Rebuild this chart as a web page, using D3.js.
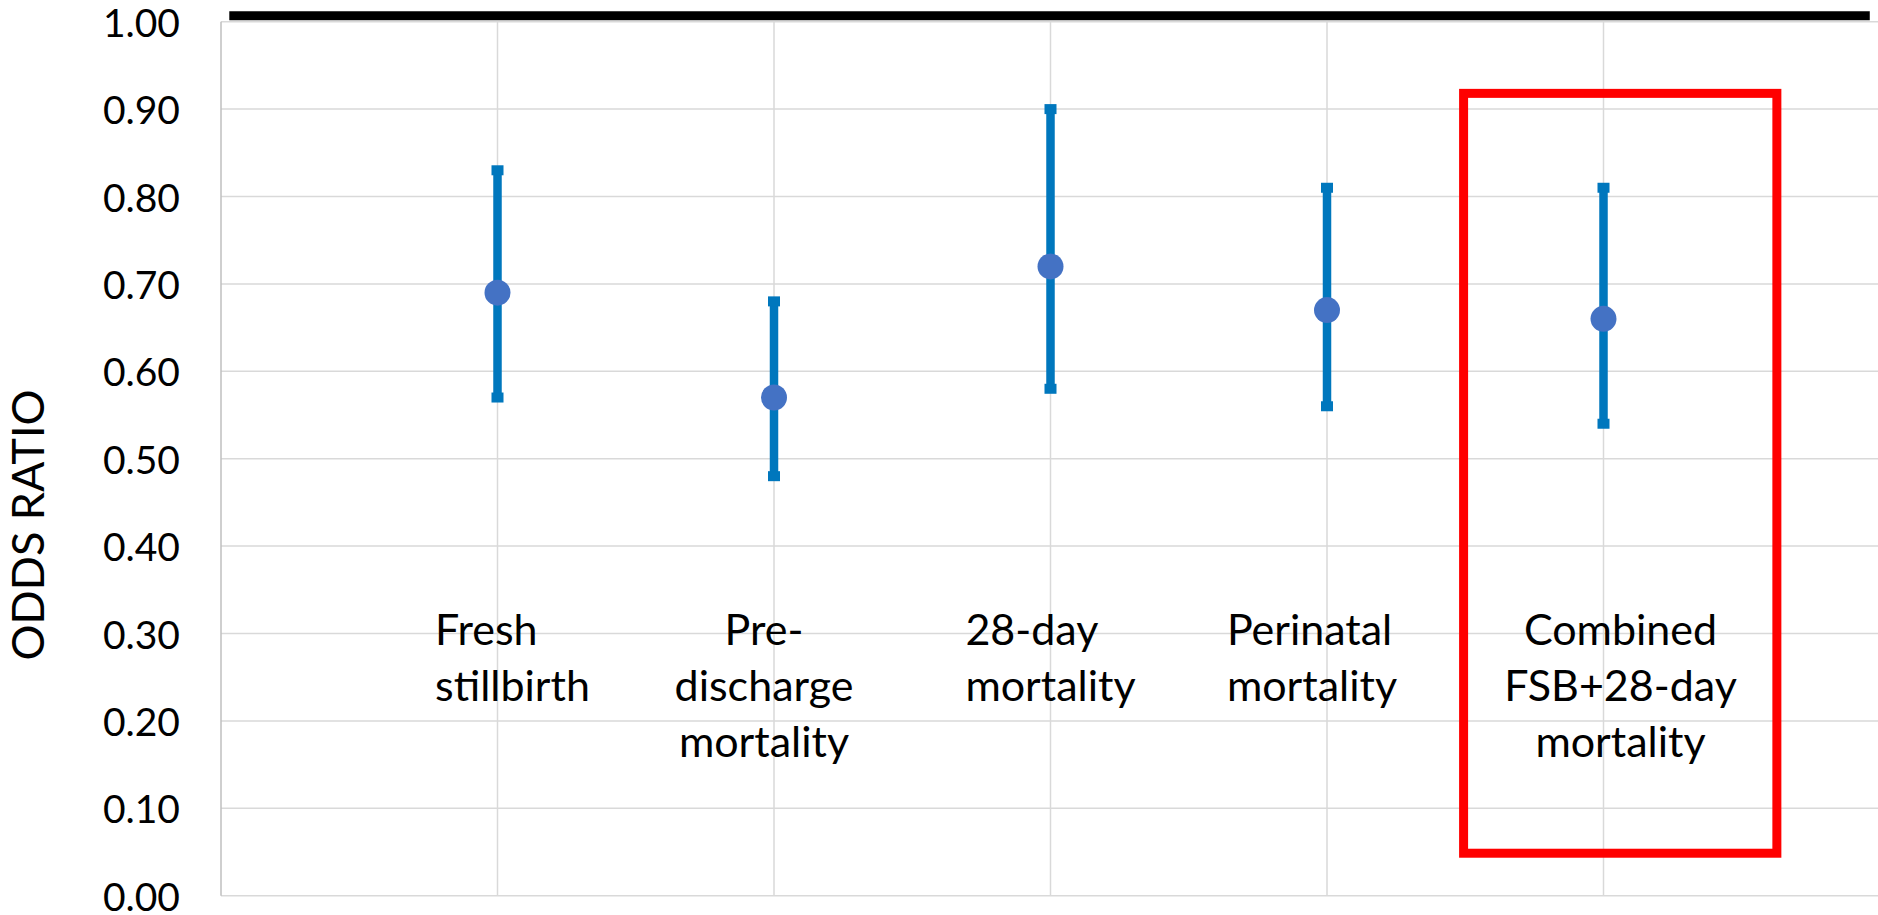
<!DOCTYPE html>
<meta charset="utf-8">
<style>
    body { margin: 0; background: #ffffff; }
    svg { display: block; background: #ffffff; }
    text { font-family: Lato, "Open Sans", sans-serif; fill: #000000; }
</style>

<script src="https://cdn.jsdelivr.net/npm/d3@7"></script>

<svg id="chart" width="1878" height="915"></svg>

<script>

// Data

var categories = [
    ['Fresh', 'stillbirth'],
    ['Pre-', 'discharge', 'mortality'],
    ['28-day', 'mortality'],
    ['Perinatal', 'mortality'],
    ['Combined', 'FSB+28-day', 'mortality']
];
var oddsRatio = [0.69, 0.57, 0.72, 0.67, 0.66];
var ciLower   = [0.57, 0.48, 0.58, 0.56, 0.54];
var ciUpper   = [0.83, 0.68, 0.90, 0.81, 0.81];
var yTicks    = [0, 0.1, 0.2, 0.3, 0.4, 0.5, 0.6, 0.7, 0.8, 0.9, 1.0];

// Layout

var svg = d3.select('svg#chart');
var width = +svg.attr('width');
var height = +svg.attr('height');

var x = d3.scaleLinear().domain([0, 6]).range([221, 1880]);
var y = d3.scaleLinear().domain([0, 1]).range([895.7, 21.7]);

var barColor = '#0077bd';
var dotColor = '#4472c4';
var gridColor = '#d9d9d9';

// Gridlines

svg.append('g')
    .selectAll('line')
    .data(yTicks)
    .enter().append('line')
    .attr('x1', x(0)).attr('x2', width)
    .attr('y1', function (d) { return y(d); })
    .attr('y2', function (d) { return y(d); })
    .attr('stroke', gridColor)
    .attr('stroke-width', 1.5);

svg.append('g')
    .selectAll('line')
    .data(d3.range(1, categories.length + 1))
    .enter().append('line')
    .attr('x1', function (d) { return x(d); })
    .attr('x2', function (d) { return x(d); })
    .attr('y1', y(1)).attr('y2', y(0))
    .attr('stroke', gridColor)
    .attr('stroke-width', 1.5);

// Left axis line
svg.append('line')
    .attr('x1', x(0)).attr('x2', x(0))
    .attr('y1', y(1)).attr('y2', y(0))
    .attr('stroke', '#bfbfbf')
    .attr('stroke-width', 1.5);

// Tick labels
svg.append('g')
    .selectAll('text')
    .data(yTicks)
    .enter().append('text')
    .attr('x', 180)
    .attr('y', function (d) { return y(d); })
    .attr('text-anchor', 'end')
    .attr('dominant-baseline', 'central')
    .style('font-size', '39px')
    .text(d3.format('.2f'));

// Axis title
svg.append('text')
    .attr('transform', 'translate(44,' + 525 + ') rotate(-90)')
    .attr('text-anchor', 'middle')
    .style('font-size', '45px')
    .text('ODDS RATIO');

// Reference line at OR = 1 (drawn just above the plot top)
svg.append('line')
    .attr('x1', x(0.03)).attr('x2', x(5.963))
    .attr('y1', y(1) - 6).attr('y2', y(1) - 6)
    .attr('stroke', '#000000')
    .attr('stroke-width', 9);

// Highlight box round the combined outcome
svg.append('rect')
    .attr('x', x(4.494))
    .attr('y', y(0.918))
    .attr('width', x(5.627) - x(4.494))
    .attr('height', y(0.0486) - y(0.918))
    .attr('fill', 'none')
    .attr('stroke', '#ff0000')
    .attr('stroke-width', 9);

// Error bars and points

var marks = svg.append('g')
    .selectAll('g')
    .data(oddsRatio)
    .enter().append('g')
    .attr('transform', function (d, i) { return 'translate(' + x(i + 1) + ',0)'; });

marks.append('line')
    .attr('y1', function (d, i) { return y(ciLower[i]); })
    .attr('y2', function (d, i) { return y(ciUpper[i]); })
    .attr('stroke', barColor)
    .attr('stroke-width', 8.5);

marks.selectAll('rect.cap')
    .data(function (d, i) { return [ciLower[i], ciUpper[i]]; })
    .enter().append('rect')
    .attr('class', 'cap')
    .attr('x', -6).attr('width', 12)
    .attr('y', function (d) { return y(d) - 5; })
    .attr('height', 10)
    .attr('fill', barColor);

marks.append('circle')
    .attr('cy', function (d) { return y(d); })
    .attr('r', 13)
    .attr('fill', dotColor);

// Category labels (hand-placed text boxes in the original)

var labelDx = [15, -10, 0, -15, 17];
var labelBlock = [true, false, true, true, false];   // left-aligned lines inside a centred block
var labelBaseline = 645;
var lineHeight = 56;

categories.forEach(function (lines, i) {
    var cx = x(i + 1) + labelDx[i];
    var g = svg.append('g');
    var texts = g.selectAll('text')
        .data(lines)
        .enter().append('text')
        .attr('y', function (d, j) { return labelBaseline + j * lineHeight; })
        .style('font-size', '43px')
        .text(function (d) { return d; });

    if (labelBlock[i]) {
        var w = d3.max(texts.nodes(), function (n) { return n.getComputedTextLength(); });
        texts.attr('x', cx - w / 2).attr('text-anchor', 'start');
    } else {
        texts.attr('x', cx).attr('text-anchor', 'middle');
    }
});

</script>
